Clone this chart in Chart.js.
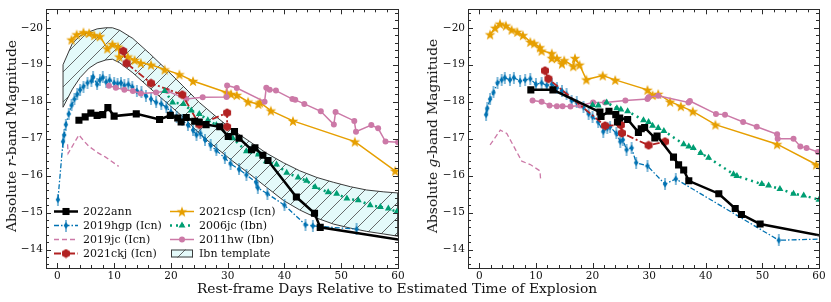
<!DOCTYPE html>
<html>
<head>
<meta charset="utf-8">
<script src="https://cdn.jsdelivr.net/npm/chart.js@4.4.1/dist/chart.umd.min.js"></script>
<style>
body{margin:0;background:#fff;}
#wrap{position:relative;width:831px;height:302px;font-family:"DejaVu Serif",serif;color:#111;}
.box{position:absolute;top:0;height:302px;}
.ytitle{position:absolute;font-size:13.8px;white-space:nowrap;transform:translate(-50%,-50%) rotate(-90deg);}
.xtitle{position:absolute;font-size:13.8px;white-space:nowrap;transform:translate(-50%,-50%);left:397px;top:288px;}
</style>
</head>
<body>
<div id="wrap">
<div class="box" style="left:0;width:410px;"><canvas id="rband"></canvas></div>
<div class="box" style="left:410px;width:421px;"><canvas id="gband"></canvas></div>
<div class="ytitle" style="left:11px;top:136px;">Absolute <i>r</i>-band Magnitude</div>
<div class="ytitle" style="left:432px;top:136px;">Absolute <i>g</i>-band Magnitude</div>
<div class="xtitle">Rest-frame Days Relative to Estimated Time of Explosion</div>
</div>
<script>
const xTicks=[0,10,20,30,40,50,60];
const yTicks=[-20,-19,-18,-17,-16,-15,-14];

// r band [day, mag]
const annR=[[3.8,-17.50],[4.9,-17.59],[5.9,-17.69],[7.0,-17.63],[8.0,-17.65],[8.9,-17.84],[10.0,-17.61],[13.9,-17.67],[18.0,-17.52],[19.9,-17.63],[21.2,-17.56],[21.8,-17.45],[22.7,-17.57],[24.2,-17.47],[25.0,-17.45],[26.2,-17.38],[28.6,-17.32],[30.1,-17.06],[31.2,-17.19],[32.0,-17.01],[34.2,-16.70],[34.8,-16.75],[36.2,-16.55],[37.1,-16.41],[42.1,-15.42],[45.3,-14.98],[46.3,-14.60],[62,-14.22]];
const hgpR=[[0.1,-15.35],[1.0,-16.92],[1.2,-17.1],[1.5,-17.38],[2.0,-17.67],[2.5,-17.9],[3.0,-18.07],[3.5,-18.2],[4.0,-18.32],[4.6,-18.41],[5.3,-18.51],[6.0,-18.56],[6.3,-18.67],[7.0,-18.47],[7.5,-18.59],[8.0,-18.66],[8.6,-18.53],[9.2,-18.59],[10.0,-18.51],[10.6,-18.49],[11.2,-18.51],[11.8,-18.44],[12.5,-18.47],[13.2,-18.40],[14.0,-18.29],[14.8,-18.25],[15.6,-18.16],[16.5,-18.07],[17.4,-17.98],[18.3,-17.94],[19.2,-17.85],[20.0,-17.72],[21.0,-17.59],[22.0,-17.50],[23.0,-17.37],[23.9,-17.23],[24.5,-17.10],[25.2,-17.14],[26.0,-16.97],[27.0,-16.82],[28.0,-16.68],[29.5,-16.48],[30.5,-16.32],[32.0,-16.17],[33.3,-16.02],[35.0,-15.82],[35.3,-15.67],[37.0,-15.51],[40.0,-15.20],[43.7,-14.67],[45.0,-14.64],[52.7,-14.55]];
const jc19R=[[1.8,-16.85],[1.9,-16.6],[3.8,-17.1],[4.6,-16.95],[5.5,-16.8],[7.0,-16.63],[8.5,-16.5],[10.8,-16.25]];
const ckjR=[[11.6,-19.37],[12.2,-19.04],[16.5,-18.50],[22.0,-18.19],[25.0,-17.38],[29.9,-17.70],[29.9,-17.32]];
const cspR=[[2.5,-19.68],[3.4,-19.82],[4.6,-19.88],[5.6,-19.86],[6.5,-19.80],[7.5,-19.77],[8.8,-19.44],[9.7,-19.56],[10.7,-19.49],[10.9,-19.22],[12.4,-19.22],[13.6,-19.13],[14.7,-19.05],[16.5,-19.00],[18.9,-18.87],[21.5,-18.74],[23.9,-18.56],[29.8,-18.25],[30.6,-18.21],[31.6,-18.18],[33.6,-18.00],[35.4,-17.94],[35.7,-17.98],[37.6,-17.76],[41.5,-17.48],[52.4,-16.92],[59.5,-16.13]];
const jc06R=[[18.9,-18.29],[20.3,-17.98],[22.2,-17.94],[23.6,-17.76],[25.0,-17.67],[26.5,-17.50],[28.0,-17.37],[30.9,-17.01],[33.3,-16.66],[35.4,-16.57],[36.8,-16.39],[38.6,-16.30],[40.4,-16.08],[42.4,-15.95],[43.9,-15.86],[45.4,-15.69],[47.7,-15.55],[49.2,-15.51],[51.0,-15.38],[53.0,-15.33],[55.1,-15.20],[56.9,-15.15],[58.3,-15.11],[59.8,-15.02]];
const hwR=[[9.1,-18.43],[10.3,-18.38],[11.8,-18.32],[13.3,-18.29],[14.7,-18.22],[17.4,-18.25],[19.4,-18.29],[22.7,-18.07],[25.6,-18.12],[29.8,-18.13],[29.9,-18.44],[31.6,-18.37],[36.5,-18.00],[36.8,-18.38],[37.4,-18.32],[38.5,-18.30],[41.4,-18.07],[41.9,-18.05],[43.5,-17.94],[46.4,-17.74],[48.7,-17.38],[49.0,-17.72],[52.3,-17.48],[52.6,-17.19],[55.3,-17.37],[56.5,-17.28],[57.8,-16.92],[60.0,-16.90]];

// Ibn template band (r)
const templateDays=[1,2.65,4,5.6,7,8.55,9.7,11,13.3,16.2,19.2,22.1,25,28,30.9,33.9,36.8,39.8,42.7,45.7,48.6,51.6,54.5,57.5,60];
const templateUpper=[-19.0,-19.58,-19.78,-19.89,-19.97,-20.0,-20.0,-19.93,-19.71,-19.31,-18.87,-18.43,-17.98,-17.59,-17.23,-16.92,-16.61,-16.35,-16.13,-15.95,-15.82,-15.70,-15.61,-15.56,-15.53];
const templateLower=[-17.85,-18.34,-18.65,-18.91,-19.05,-19.13,-19.15,-19.05,-18.78,-18.38,-17.98,-17.59,-17.14,-16.75,-16.39,-16.04,-15.69,-15.33,-15.07,-14.85,-14.69,-14.58,-14.49,-14.42,-14.36];

// g band [day, mag]
const annG=[[9.1,-18.32],[13.0,-18.32],[21.3,-17.72],[21.5,-17.60],[22.9,-17.74],[24.1,-17.65],[24.4,-17.45],[24.8,-17.56],[26.2,-17.52],[28.1,-17.17],[28.6,-17.27],[29.2,-17.30],[31.0,-17.02],[31.4,-17.07],[34.3,-16.50],[35.2,-16.29],[36.1,-16.15],[37.0,-15.86],[42.3,-15.51],[45.2,-15.11],[46.3,-14.95],[49.6,-14.69],[62,-14.33]];
const hgpG=[[1.2,-17.65],[1.4,-17.82],[1.9,-18.07],[2.5,-18.25],[3.2,-18.51],[3.95,-18.59],[4.5,-18.65],[5.4,-18.59],[6.1,-18.65],[7.2,-18.56],[8.1,-18.59],[9.0,-18.62],[10.0,-18.47],[11.0,-18.51],[11.9,-18.44],[12.8,-18.47],[13.7,-18.38],[14.6,-18.29],[15.4,-18.20],[16.3,-18.03],[17.2,-17.98],[18.4,-17.85],[19.3,-17.67],[20.0,-17.59],[21.0,-17.45],[21.9,-17.19],[22.6,-17.28],[23.1,-17.32],[24.2,-17.14],[24.9,-16.92],[25.35,-16.97],[26.0,-16.70],[26.9,-16.75],[27.7,-16.35],[29.7,-16.26],[32.8,-15.77],[34.7,-15.91],[52.9,-14.25],[62,-14.29]];
const jc19G=[[1.9,-16.83],[3.7,-17.23],[4.85,-17.14],[7.5,-16.39],[9.0,-16.30],[10.7,-16.13],[10.85,-15.86]];
const ckjG=[[11.6,-18.84],[12.2,-18.62],[22.2,-17.35],[25.0,-17.37],[25.2,-17.15],[29.9,-16.82],[32.8,-16.92]];
const cspG=[[1.9,-19.82],[2.8,-20.0],[3.65,-20.11],[4.7,-20.06],[5.7,-19.95],[6.7,-19.89],[7.7,-19.80],[9.0,-19.62],[9.7,-19.58],[10.7,-19.47],[11.0,-19.38],[12.8,-19.31],[12.8,-19.18],[13.7,-19.18],[14.6,-19.03],[15.0,-19.12],[16.6,-18.96],[16.9,-19.18],[17.7,-19.00],[18.9,-18.60],[21.8,-18.71],[24.0,-18.59],[29.7,-18.32],[30.6,-18.18],[31.6,-18.21],[33.7,-18.00],[35.6,-17.88],[37.7,-17.74],[41.7,-17.38],[52.6,-16.85],[59.5,-16.30]];
const jc06G=[[20.0,-17.91],[21.0,-17.90],[22.5,-17.98],[24.3,-17.82],[25.0,-17.79],[26.2,-17.74],[29.0,-17.50],[29.9,-17.45],[30.6,-17.35],[31.6,-17.29],[32.6,-17.21],[36.1,-16.85],[37.0,-16.79],[37.8,-16.75],[39.1,-16.61],[40.5,-16.48],[44.9,-16.04],[45.5,-15.99],[49.9,-15.77],[51.1,-15.73],[53.1,-15.64],[55.5,-15.51],[57.3,-15.46],[60.0,-15.35]];
const hwG=[[9.4,-18.03],[11.0,-18.00],[12.4,-17.90],[13.7,-17.88],[14.7,-17.88],[16.1,-17.87],[17.8,-17.90],[20.1,-17.98],[22.2,-17.98],[25.8,-18.03],[29.7,-18.07],[29.9,-18.12],[31.6,-18.16],[36.95,-17.98],[37.2,-18.02],[41.8,-17.67],[43.4,-17.65],[46.6,-17.45],[49.0,-17.32],[52.6,-17.12],[52.7,-17.00],[55.5,-17.00],[56.7,-16.79],[57.8,-16.75],[59.8,-16.64]];

const BLUE="#0072B2", ORANGE="#E69F00", TEAL="#009E73", PINK="#CC79A7", RED="#B22222";
const serif='"DejaVu Serif",serif';

function makeMarker(w,h,draw){
let c=document.createElement("canvas");
c.width=w;c.height=h;
draw(c.getContext("2d"));
return c;
}

let starImg=makeMarker(12,12,g=>{
g.fillStyle=ORANGE;
g.beginPath();
for(let i=0;i<10;i++){
let r=i%2?2.3:5.6;
let a=-Math.PI/2+i*Math.PI/5;
g.lineTo(6+r*Math.cos(a),6.6+r*Math.sin(a));
}
g.closePath();g.fill();
});

let hexImg=makeMarker(10,10,g=>{
g.fillStyle=RED;
g.beginPath();
for(let i=0;i<6;i++){
let a=-Math.PI/2+i*Math.PI/3;
g.lineTo(5+4.6*Math.cos(a),5+4.6*Math.sin(a));
}
g.closePath();g.fill();
});

let diaImg=makeMarker(6,12,g=>{
g.strokeStyle=BLUE;g.lineWidth=1;
g.beginPath();g.moveTo(3,0);g.lineTo(3,12);g.stroke();
g.fillStyle=BLUE;
g.beginPath();g.moveTo(3,2.5);g.lineTo(5.3,6);g.lineTo(3,9.5);g.lineTo(0.7,6);g.closePath();g.fill();
});

let hatchTile=makeMarker(15,15,g=>{
g.fillStyle="#e4fafa";g.fillRect(0,0,15,15);
g.strokeStyle="#444";g.lineWidth=0.8;
g.beginPath();
g.moveTo(0,15);g.lineTo(15,0);
g.moveTo(-1,1);g.lineTo(1,-1);
g.moveTo(14,16);g.lineTo(16,14);
g.stroke();
});
let hatch=document.createElement("canvas").getContext("2d").createPattern(hatchTile,"repeat");

function line(label,data,color,o){
return Object.assign({
label:label,data:data,borderColor:color,backgroundColor:color,
pointBackgroundColor:color,pointBorderColor:color,pointBorderWidth:0,
borderWidth:1.5,tension:0,fill:false,clip:0
},o);
}

function makeSets(ann,hgp,jc19,ckj,csp,jc06,hw,band){
let sets=[
line("2022ann",ann,"#000",{borderWidth:2.5,pointStyle:"rect",pointRadius:5,order:1}),
line("2019hgp (Icn)",hgp,BLUE,{borderWidth:1.3,borderDash:[5,2,1.5,2],pointStyle:diaImg,order:6}),
line("2019jc (Icn)",jc19,PINK,{borderWidth:1.3,borderDash:[5,3],pointRadius:0,order:7}),
line("2021ckj (Icn)",ckj,RED,{borderWidth:1.8,borderDash:[7,2.5,2,2.5],pointStyle:hexImg,order:3}),
line("2021csp (Icn)",csp,ORANGE,{pointStyle:starImg,order:5}),
line("2006jc (Ibn)",jc06,TEAL,{borderWidth:2.5,borderDash:[2,4],pointStyle:"triangle",pointRadius:4,order:2}),
line("2011hw (Ibn)",hw,PINK,{pointStyle:"circle",pointRadius:3,order:4})
];
if(band){
let poly=templateDays.map((d,i)=>[d,templateUpper[i]]);
for(let i=templateDays.length-1;i>=0;i--) poly.push([templateDays[i],templateLower[i]]);
poly.push(poly[0]);
sets.push({label:"Ibn template",data:poly,borderColor:"#3a3a3a",borderWidth:1,backgroundColor:hatch,fill:"shape",pointRadius:0,tension:0,order:10,clip:0});
}
return sets;
}

const frameTicks={
id:"frameTicks",
afterDraw(chart){
let ctx=chart.ctx,a=chart.chartArea,xs=chart.scales.x,ys=chart.scales.y;
ctx.save();
ctx.strokeStyle="#2b2b2b";ctx.lineWidth=1;
ctx.beginPath();
for(let d=-2;d<=60;d+=2){
let px=Math.round(xs.getPixelForValue(d))+0.5;
let len=d%10===0?5:3;
ctx.moveTo(px,a.bottom);ctx.lineTo(px,a.bottom-len);
ctx.moveTo(px,a.top);ctx.lineTo(px,a.top+len);
}
for(let k=-102;k<=-68;k++){
let m=k/5;
let py=Math.round(ys.getPixelForValue(m))+0.5;
let len=k%5===0?5:3;
ctx.moveTo(a.left,py);ctx.lineTo(a.left+len,py);
ctx.moveTo(a.right,py);ctx.lineTo(a.right-len,py);
}
ctx.stroke();
ctx.strokeRect(Math.round(a.left)+0.5,Math.round(a.top)+0.5,Math.round(a.right-a.left),Math.round(a.bottom-a.top));
ctx.restore();
}
};

const legendPos=[[54,211.5],[54,225.5],[54,239.5],[54,253.5],[170,211.5],[170,225.5],[170,239.5],[170,253.5]];

const legendDraw={
id:"legendDraw",
afterDatasetsDraw(chart){
if(chart.canvas.id!=="rband") return;
let ctx=chart.ctx;
ctx.save();
ctx.font="11px "+serif;
ctx.textBaseline="middle";
chart.data.datasets.forEach((ds,i)=>{
let x=legendPos[i][0],y=legendPos[i][1];
if(ds.label==="Ibn template"){
ctx.fillStyle=hatch;ctx.fillRect(x+1,y-4,22,8);
ctx.strokeStyle="#3a3a3a";ctx.lineWidth=1;ctx.strokeRect(x+1.5,y-3.5,21,7);
}else{
ctx.strokeStyle=ds.borderColor;ctx.lineWidth=ds.borderWidth;
ctx.setLineDash(ds.borderDash||[]);
ctx.beginPath();ctx.moveTo(x,y);ctx.lineTo(x+24,y);ctx.stroke();
ctx.setLineDash([]);
if(ds.pointRadius!==0){
ctx.fillStyle=ds.borderColor;ctx.strokeStyle=ds.borderColor;
Chart.helpers.drawPoint(ctx,{pointStyle:ds.pointStyle,radius:ds.pointRadius||3,borderWidth:0,rotation:0},x+12,y);
}
}
ctx.fillStyle="#111";
ctx.fillText(ds.label,x+29,y+0.5);
});
ctx.restore();
}
};

function options(yWidth){
return {
responsive:true,maintainAspectRatio:false,animation:false,devicePixelRatio:1,
layout:{padding:{left:0,right:12,top:5,bottom:0}},
plugins:{legend:{display:false},tooltip:{enabled:false}},
scales:{
x:{type:"linear",min:-2,max:60,
grid:{display:false,drawTicks:false},border:{display:false},
afterBuildTicks:s=>{s.ticks=xTicks.map(v=>({value:v}));},
afterFit:s=>{s.height=34;},
ticks:{padding:2,color:"#111",font:{family:serif,size:10.5},maxRotation:0,callback:v=>String(v)}},
y:{type:"linear",min:-20.5,max:-13.5,reverse:true,
grid:{display:false,drawTicks:false},border:{display:false},
afterBuildTicks:s=>{s.ticks=yTicks.map(v=>({value:v}));},
afterFit:s=>{s.width=yWidth;},
ticks:{padding:3,color:"#111",font:{family:serif,size:10.5},callback:v=>"\u2212"+Math.abs(v)}}
}
};
}

new Chart(document.getElementById("rband"),{
type:"line",
data:{datasets:makeSets(annR,hgpR,jc19R,ckjR,cspR,jc06R,hwR,true)},
options:options(46),
plugins:[frameTicks,legendDraw]
});

new Chart(document.getElementById("gband"),{
type:"line",
data:{datasets:makeSets(annG,hgpG,jc19G,ckjG,cspG,jc06G,hwG,false)},
options:options(58),
plugins:[frameTicks]
});
</script>
</body>
</html>
